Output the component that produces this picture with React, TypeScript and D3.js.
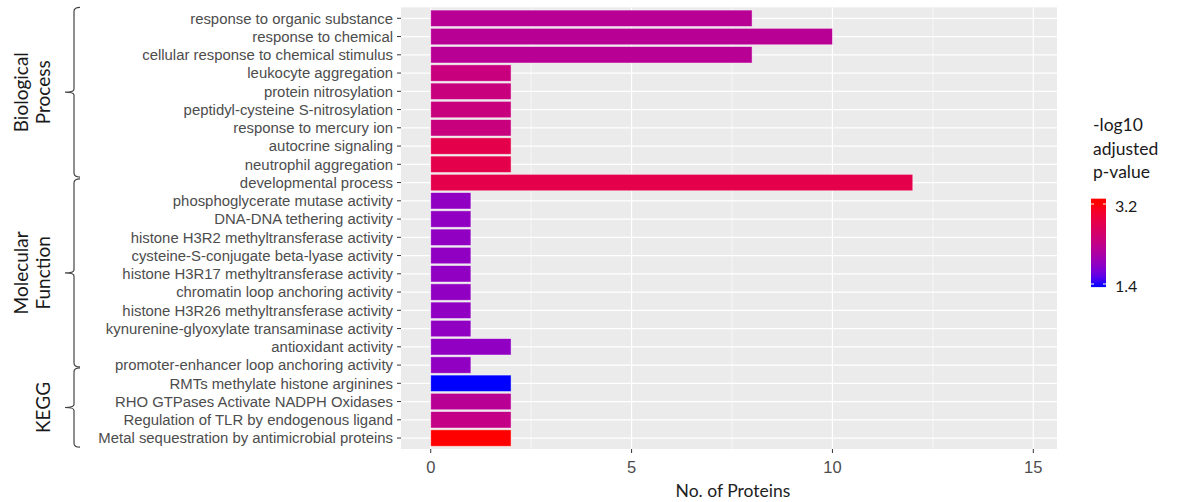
import React, { useRef, useEffect } from 'react';
import * as d3 from 'd3';

const terms = [
  'response to organic substance',
  'response to chemical',
  'cellular response to chemical stimulus',
  'leukocyte aggregation',
  'protein nitrosylation',
  'peptidyl-cysteine S-nitrosylation',
  'response to mercury ion',
  'autocrine signaling',
  'neutrophil aggregation',
  'developmental process',
  'phosphoglycerate mutase activity',
  'DNA-DNA tethering activity',
  'histone H3R2 methyltransferase activity',
  'cysteine-S-conjugate beta-lyase activity',
  'histone H3R17 methyltransferase activity',
  'chromatin loop anchoring activity',
  'histone H3R26 methyltransferase activity',
  'kynurenine-glyoxylate transaminase activity',
  'antioxidant activity',
  'promoter-enhancer loop anchoring activity',
  'RMTs methylate histone arginines',
  'RHO GTPases Activate NADPH Oxidases',
  'Regulation of TLR by endogenous ligand',
  'Metal sequestration by antimicrobial proteins',
];

const proteinCounts = [8, 10, 8, 2, 2, 2, 2, 2, 2, 12, 1, 1, 1, 1, 1, 1, 1, 1, 2, 1, 2, 2, 2, 2];

const negLogP = [
  2.2, 2.2, 2.2, 2.38, 2.38, 2.38, 2.38, 2.78, 2.78, 2.78,
  1.85, 1.85, 1.85, 1.85, 1.85, 1.85, 1.85, 1.85, 1.85, 1.85,
  1.4, 2.2, 2.32, 3.2,
];

const xTicks = [0, 5, 10, 15];
const xMinorTicks = [2.5, 7.5, 12.5];
const legendTicks = [3.2, 1.4];

// groups: label lines, first/last row position (fractional, hand-drawn brackets)
const groupLabels = [['Biological', 'Process'], ['Molecular', 'Function'], ['KEGG']];
const groupStart = [-0.6, 8.8, 19.15];
const groupEnd = [8.7, 19.1, 23.5];

const W = 1179;
const H = 502;

const App = () => {
  const ref = useRef(null);

  useEffect(() => {
    const svg = d3.select(ref.current)
      .attr('width', W)
      .attr('height', H);

    svg.selectAll('*').remove();

    const panel = { left: 401, right: 1057, top: 7.35, bottom: 449 };

    const x = d3.scaleLinear()
      .domain([-0.74, 15.59])
      .range([panel.left, panel.right]);

    const y = d3.scalePoint()
      .domain(terms)
      .range([panel.top, panel.bottom])
      .padding(0.6);
    const step = y.step();
    const rowY = (i) => y(terms[0]) + i * step;

    const color = d3.scaleLinear()
      .domain([1.4, 3.2])
      .range(['blue', 'red'])
      .interpolate(d3.interpolateLab)
      .clamp(true);

    const axisFont = 'Liberation Sans, Arial, sans-serif';
    const titleFont = 'Lato, Open Sans, sans-serif';

    // panel
    svg.append('rect')
      .attr('x', panel.left)
      .attr('y', panel.top)
      .attr('width', panel.right - panel.left)
      .attr('height', panel.bottom - panel.top)
      .attr('fill', '#EBEBEB');

    const grid = svg.append('g');
    grid.selectAll('.minor')
      .data(xMinorTicks)
      .enter()
      .append('line')
      .attr('x1', (d) => x(d)).attr('x2', (d) => x(d))
      .attr('y1', panel.top).attr('y2', panel.bottom)
      .attr('stroke', '#fff').attr('stroke-width', 0.6);
    grid.selectAll('.major')
      .data(xTicks)
      .enter()
      .append('line')
      .attr('x1', (d) => x(d)).attr('x2', (d) => x(d))
      .attr('y1', panel.top).attr('y2', panel.bottom)
      .attr('stroke', '#fff').attr('stroke-width', 1.2);
    grid.selectAll('.hline')
      .data(terms)
      .enter()
      .append('line')
      .attr('x1', panel.left).attr('x2', panel.right)
      .attr('y1', (d) => y(d)).attr('y2', (d) => y(d))
      .attr('stroke', '#fff').attr('stroke-width', 1.2);

    // bars
    const barH = step * 0.9;
    svg.append('g')
      .selectAll('rect')
      .data(terms)
      .enter()
      .append('rect')
      .attr('x', x(0))
      .attr('y', (d) => y(d) - barH / 2)
      .attr('width', (d, i) => x(proteinCounts[i]) - x(0))
      .attr('height', barH)
      .attr('fill', (d, i) => color(negLogP[i]))
      .attr('stroke', '#ffffff')
      .attr('stroke-opacity', 0.55)
      .attr('stroke-width', 0.8);

    // y axis
    const yAxis = svg.append('g');
    yAxis.selectAll('line')
      .data(terms)
      .enter()
      .append('line')
      .attr('x1', panel.left - 4).attr('x2', panel.left)
      .attr('y1', (d) => y(d)).attr('y2', (d) => y(d))
      .attr('stroke', '#333').attr('stroke-width', 1);
    yAxis.selectAll('text')
      .data(terms)
      .enter()
      .append('text')
      .attr('x', panel.left - 8)
      .attr('y', (d) => y(d))
      .attr('dy', '0.35em')
      .attr('text-anchor', 'end')
      .attr('font-family', axisFont)
      .attr('font-size', 14.9)
      .attr('fill', '#4D4D4D')
      .text((d) => d);

    // x axis
    const xAxis = svg.append('g');
    xAxis.selectAll('line')
      .data(xTicks)
      .enter()
      .append('line')
      .attr('x1', (d) => x(d)).attr('x2', (d) => x(d))
      .attr('y1', panel.bottom).attr('y2', panel.bottom + 4)
      .attr('stroke', '#333').attr('stroke-width', 1);
    xAxis.selectAll('text')
      .data(xTicks)
      .enter()
      .append('text')
      .attr('x', (d) => x(d))
      .attr('y', panel.bottom + 18)
      .attr('dy', '0.35em')
      .attr('text-anchor', 'middle')
      .attr('font-family', axisFont)
      .attr('font-size', 16.5)
      .attr('fill', '#4D4D4D')
      .text((d) => d);

    svg.append('text')
      .attr('x', (panel.left + panel.right) / 2 + 4)
      .attr('y', 491)
      .attr('dy', '0.35em')
      .attr('text-anchor', 'middle')
      .attr('font-family', titleFont)
      .attr('font-size', 17.5)
      .attr('fill', '#222')
      .text('No. of Proteins');

    // group brackets
    const bx = 74;
    const br = svg.append('g');
    groupLabels.forEach((lines, g) => {
      const top = rowY(groupStart[g]);
      const bot = rowY(groupEnd[g]);
      const mid = (top + bot) / 2;
      br.append('path')
        .attr('d', `M${bx + 6},${top} Q${bx},${top} ${bx},${top + 4} L${bx},${mid - 3} Q${bx},${mid} ${bx - 9},${mid} Q${bx},${mid} ${bx},${mid + 3} L${bx},${bot - 4} Q${bx},${bot} ${bx + 6},${bot}`)
        .attr('fill', 'none')
        .attr('stroke', '#444')
        .attr('stroke-width', 1.2);
      const n = lines.length;
      lines.forEach((t, k) => {
        const cx = n === 1 ? 43 : 21 + k * 22;
        br.append('text')
          .attr('transform', `translate(${cx},${mid}) rotate(-90)`)
          .attr('dy', '0.35em')
          .attr('text-anchor', 'middle')
          .attr('font-family', titleFont)
          .attr('font-size', 19)
          .attr('fill', '#1a1a1a')
          .text(t);
      });
    });

    // legend
    const lg = svg.append('g');
    ['-log10', 'adjusted', 'p-value'].forEach((t, i) => {
      lg.append('text')
        .attr('x', 1093)
        .attr('y', 125 + i * 23.5)
        .attr('dy', '0.35em')
        .attr('font-family', titleFont)
        .attr('font-size', 17.5)
        .attr('fill', '#1a1a1a')
        .text(t);
    });

    const lv = d3.scaleLinear().domain([3.2, 1.4]).range([204, 284]);
    const barTop = lv(3.32);
    const barBot = lv(1.33);
    const defs = svg.append('defs');
    const grad = defs.append('linearGradient')
      .attr('id', 'pgrad')
      .attr('x1', 0).attr('x2', 0).attr('y1', 0).attr('y2', 1);
    d3.range(0, 1.0001, 0.05).forEach((t) => {
      const v = lv.invert(barTop + t * (barBot - barTop));
      grad.append('stop')
        .attr('offset', t)
        .attr('stop-color', color(v));
    });
    lg.append('rect')
      .attr('x', 1091)
      .attr('y', barTop)
      .attr('width', 15)
      .attr('height', barBot - barTop)
      .attr('fill', 'url(#pgrad)');
    legendTicks.forEach((v) => {
      lg.append('line')
        .attr('x1', 1091).attr('x2', 1094)
        .attr('y1', lv(v)).attr('y2', lv(v))
        .attr('stroke', '#fff').attr('stroke-width', 1);
      lg.append('line')
        .attr('x1', 1103).attr('x2', 1106)
        .attr('y1', lv(v)).attr('y2', lv(v))
        .attr('stroke', '#fff').attr('stroke-width', 1);
      lg.append('text')
        .attr('x', 1115)
        .attr('y', lv(v) + 2)
        .attr('dy', '0.35em')
        .attr('font-family', titleFont)
        .attr('font-size', 16)
        .attr('fill', '#1a1a1a')
        .text(v.toFixed(1));
    });
  }, []);

  return (
    <div style={{ position: 'absolute', left: 0, top: 0 }}>
      <svg ref={ref} style={{ display: 'block', background: '#fff' }}></svg>
    </div>
  );
};

export default App;
